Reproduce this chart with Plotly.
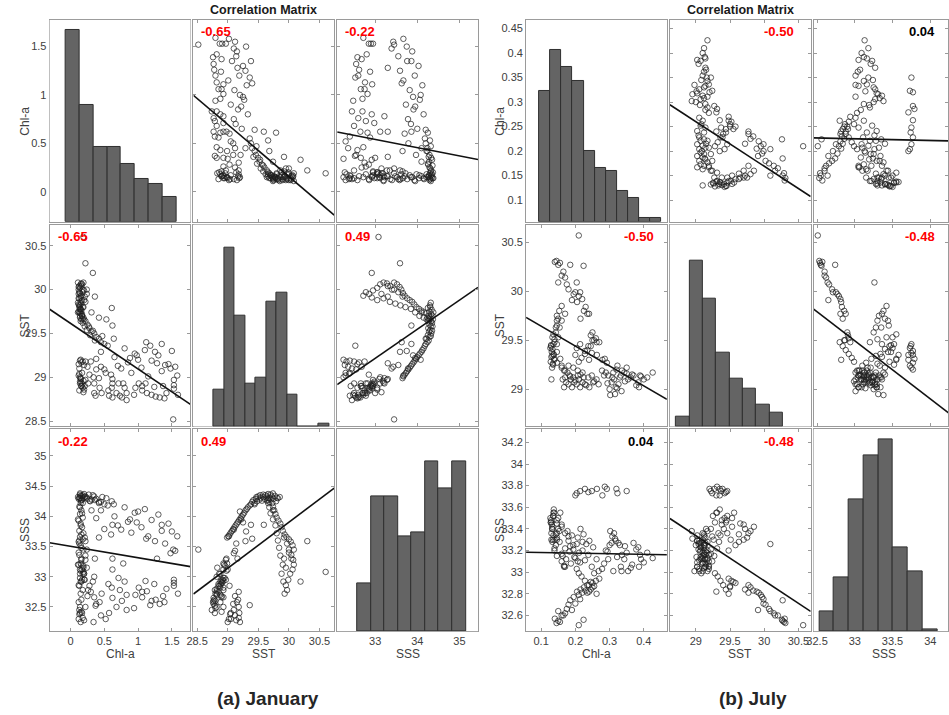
import numpy as np
import plotly.graph_objects as go

W, H = 949, 715
FONT = "Liberation Sans, Arial, Helvetica, sans-serif"
VARS = ["Chl-a", "SST", "SSS"]

# ===================== January stations (grouped by feature) =====================
# warm low-Chl arc
jan_arc_chl = [0.15,0.18,0.12,0.20,0.14, 0.17,0.11,0.16,0.13,0.19, 0.15,0.12,0.18,0.14,0.16,
               0.13,0.17,0.15,0.12,0.18, 0.14,0.16,0.13,0.15,0.17, 0.14,0.12,0.20,0.15,0.22,
               0.16,0.13,0.19,0.15,0.11, 0.17,0.14,0.18,0.12,0.24, 0.16,0.13,0.21,0.15,0.11]
jan_arc_sst = [29.93,29.97,29.95,29.99,30.02, 30.06,30.08,30.07,30.04,30.08, 30.06,30.03,30.00,29.96,29.93,
               29.90,29.88,29.86,29.83,29.80, 29.78,29.76,29.74,29.73,29.70, 29.82,29.90,29.88,29.91,29.86,
               29.84,29.82,29.80,29.78,29.74, 29.70,29.68,29.66,30.00,29.95, 30.04,29.97,29.92,29.64,29.85]
jan_arc_sss = [32.72,32.78,32.86,32.95,33.05, 33.12,33.20,33.28,33.36,33.45, 33.52,33.58,33.62,33.66,33.70,
               33.76,33.82,33.88,33.93,33.98, 34.04,34.10,34.16,34.22,34.28, 34.30,33.20,33.05,32.92,33.35,
               33.48,33.60,33.72,33.85,33.95, 34.05,34.15,34.22,33.40,33.15, 33.30,33.55,33.65,34.26,34.32]
# high-salinity vertical band
jan_band_chl = [0.13,0.15,0.12,0.17,0.14, 0.19,0.16,0.22,0.18,0.25, 0.21,0.28,0.24,0.31,0.35,
                0.29,0.38,0.42,0.36,0.45, 0.50,0.14,0.20,0.27,0.33]
jan_band_sst = [29.80,29.77,29.75,29.72,29.70, 29.68,29.66,29.64,29.62,29.60, 29.58,29.56,29.54,29.52,29.50,
                29.48,29.46,29.44,29.42,29.40, 29.38,29.74,29.66,29.58,29.53]
jan_band_sss = [34.31,34.34,34.29,34.33,34.36, 34.30,34.27,34.33,34.35,34.29, 34.32,34.26,34.31,34.28,34.33,
                34.25,34.29,34.22,34.27,34.24, 34.20,34.38,34.37,34.36,34.35]
# lower descending curve
jan_curve_chl = [0.55,0.80,1.10,0.45,0.95, 1.30,0.65,0.38,1.20,0.85, 1.45,0.70,1.05,0.50,1.35,
                 0.90,0.60,1.15,0.42,1.00]
jan_curve_sst = [29.36,29.33,29.31,29.29,29.27, 29.25,29.23,29.21,29.19,29.17, 29.15,29.13,29.11,29.09,29.07,
                 29.05,29.03,29.01,28.99,29.20]
jan_curve_sss = [34.18,34.15,34.12,34.10,34.06, 34.03,34.00,33.97,33.94,33.91, 33.88,33.85,33.82,33.79,33.76,
                 33.73,33.70,33.67,33.65,34.08]
# scattered mid-salinity, high Chl
jan_mid_chl = [1.55,1.48,1.40,1.25,1.12, 1.35,0.98,0.75,1.58,0.62, 1.18,0.88,1.28,1.50]
jan_mid_sst = [29.12,29.10,29.14,29.29,29.40, 29.38,29.25,29.10,29.02,29.59, 29.36,29.22,29.16,29.30]
jan_mid_sss = [33.43,33.39,33.55,33.59,33.63, 33.86,33.90,33.78,33.67,33.86, 32.53,33.95,33.30,33.75]
# cool low-salinity cluster
jan_cool_chl = [1.59,1.53,1.53,1.53,1.39, 1.42,1.37,1.32,1.26,1.24, 1.20,1.13,1.11,1.06,1.06,
                1.01,0.94,0.96, 0.83,0.83, 0.80,0.76,0.78,0.73,0.68, 0.71,0.62,0.61,0.62,0.62,
                0.57,0.56,0.46,0.43,0.37, 0.35,0.35,0.26,0.21,0.19, 0.16,0.14]
jan_cool_sst = [28.80,28.87,28.91,28.97,28.76, 28.82,28.90,28.77,28.78,28.89, 28.80,28.82,28.93,28.85,28.90,
                28.93,28.80,28.88, 28.74,28.82, 28.88,28.77,28.93,28.79,28.82, 28.93,28.77,28.88,28.93,28.98,
                28.79,28.85,28.82,28.88,28.79, 28.82,28.93,28.93,28.90,28.96, 28.90,28.93]
jan_cool_sss = [32.72,32.85,32.90,32.95,32.58, 32.80,32.68,32.55,32.62,32.88, 32.60,32.76,32.93,32.75,32.66,
                32.82,32.48,32.70, 32.45,32.70, 32.92,32.60,33.22,32.78,32.50, 32.98,32.65,32.82,33.12,33.30,
                32.40,32.88,32.72,32.58,32.52, 33.00,32.66,32.78,32.95,33.18, 32.42,32.50]
# cool stations with low Chl
jan_coollow_chl = [0.13,0.16,0.14,0.18,0.15, 0.12,0.17,0.20,0.14,0.16, 0.22,0.13,0.19,0.15]
jan_coollow_sst = [28.85,28.90,28.95,28.88,28.98, 29.02,28.92,28.86,29.00,28.94, 28.97,29.04,28.83,28.99]
jan_coollow_sss = [32.85,32.92,32.98,33.05,33.10, 32.30,32.95,33.05,33.12,33.20, 33.28,32.38,33.15,33.22]
# fresh left cluster
jan_fresh_chl = [0.15,0.18,0.14,0.22,0.16, 0.30,0.20,0.45,0.13,0.38, 0.25,0.52,0.17,0.34,0.28, 0.12]
jan_fresh_sst = [29.20,29.18,29.19,29.18,29.17, 29.18,29.14,29.12,29.10,29.09, 29.12,29.05,29.05,29.00,29.03, 29.15]
jan_fresh_sss = [32.25,32.32,32.40,32.50,32.62, 32.75,32.28,32.36,32.45,32.55, 32.68,32.30,32.40,32.25,32.85, 32.58]
# isolated stations
jan_misc_chl = [1.52,0.19,0.22,0.33,0.61, 0.36,0.24,0.31,0.42,0.53, 0.64,0.47]
jan_misc_sst = [28.52,30.60,30.30,30.19,29.79, 29.92,30.00,29.74,29.68,29.66, 29.44,29.47]
jan_misc_sss = [33.45,33.08,33.59,32.92,34.25, 33.30,33.45,34.10,34.24,34.30, 34.20,34.32]

jan_chl = (jan_arc_chl + jan_band_chl + jan_curve_chl + jan_mid_chl + jan_cool_chl + jan_coollow_chl
           + jan_fresh_chl + jan_misc_chl)
jan_sst = (jan_arc_sst + jan_band_sst + jan_curve_sst + jan_mid_sst + jan_cool_sst + jan_coollow_sst
           + jan_fresh_sst + jan_misc_sst)
jan_sss = (jan_arc_sss + jan_band_sss + jan_curve_sss + jan_mid_sss + jan_cool_sss + jan_coollow_sss
           + jan_fresh_sss + jan_misc_sss)

# ===================== July stations (grouped by feature) =====================
jul_arm_chl = [0.21,0.145,0.15,0.14,0.155, 0.185,0.16,0.17,0.15,0.175, 0.19,0.18,0.20,0.195,0.21,
               0.22,0.205,0.23,0.225,0.24, 0.25,0.245,0.26,0.27,0.235, 0.215,0.255,0.165]
jul_arm_sst = [30.57,30.31,30.27,30.30,30.29, 30.27,30.16,30.14,30.09,30.07, 29.91,30.02,29.99,29.97,29.95,
               29.92,29.89,29.84,29.80,29.77, 29.58,29.55,29.52,29.48,29.77, 29.72,29.50,30.20]
jul_arm_sss = [32.51,32.53,32.55,32.57,32.54, 32.74,32.60,32.62,32.64,32.66, 32.65,32.70,32.71,32.77,32.79,
               32.81,32.82,32.83,32.86,32.88, 32.90,32.91,32.92,32.94,32.81, 32.84,32.87,32.60]
jul_peak_chl = [0.426,0.410,0.392,0.389,0.386, 0.384,0.370,0.362,0.354,0.350, 0.343,0.336,0.335,0.333,0.330,
                0.326,0.318,0.316,0.313,0.311, 0.306,0.300,0.296,0.289,0.278]
jul_peak_sst = [29.17,29.12,29.13,29.14,29.02, 29.07,29.14,29.12,29.10,29.16, 29.17,29.19,28.98,29.14,29.12,
                29.05,29.02,28.95,29.10,29.17, 29.07,29.00,29.14,29.17,29.19]
jul_peak_sss = [33.13,33.18,33.12,33.16,33.05, 33.23,33.27,33.04,33.01,33.18, 33.12,33.16,33.01,33.05,33.25,
                33.27,33.29,33.31,33.36,33.01, 33.27,33.25,33.12,33.20,33.03]
jul_peak2_chl = [0.400,0.378,0.366,0.345,0.322, 0.308,0.294,0.284]
jul_peak2_sst = [29.10,29.04,29.15,29.08,29.01, 29.12,29.06,29.14]
jul_peak2_sss = [33.09,33.21,33.07,33.24,33.14, 33.33,33.19,33.08]
jul_salty_chl = [0.350,0.323,0.320,0.292,0.286, 0.279,0.263,0.248,0.238,0.228, 0.214,0.204,0.200]
jul_salty_sst = [29.22,29.24,29.20,29.27,29.31, 29.30,29.35,29.37,29.44,29.39, 29.46,29.42,29.35]
jul_salty_sss = [33.75,33.73,33.77,33.77,33.79, 33.71,33.77,33.75,33.74,33.77, 33.75,33.73,33.71]
jul_core_chl = [0.268,0.262,0.252,0.241,0.238, 0.248,0.228,0.221,0.224,0.214, 0.211,0.207,0.204,0.197,0.194,
                0.190,0.187,0.183,0.180,0.173, 0.170,0.177,0.167,0.163,0.221, 0.207,0.194,0.180,0.167,0.160,
                0.255,0.232,0.215,0.200,0.185]
jul_core_sst = [29.05,29.10,29.07,29.02,29.12, 29.14,29.05,29.07,29.12,29.02, 29.10,29.14,29.05,29.07,29.12,
                29.02,29.10,29.14,29.05,29.07, 29.12,29.17,29.02,29.10,29.17, 29.19,29.22,29.24,29.19,29.22,
                29.08,29.04,29.15,29.09,29.13]
jul_core_sss = [33.01,33.12,33.23,33.29,33.16, 33.05,33.11,33.20,33.35,33.09, 33.18,33.32,33.03,33.14,33.25,
                33.34,33.08,33.19,33.29,33.12, 33.22,33.38,33.05,33.15,33.28, 33.10,33.21,33.33,33.06,33.17,
                32.99,33.26,33.40,33.13,33.24]
jul_low_chl = [0.170,0.160,0.146,0.139,0.133, 0.136,0.133,0.129,0.136,0.139, 0.139,0.133,0.136,0.143,0.143,
               0.146,0.146,0.150,0.146,0.153, 0.160,0.156,0.146,0.146,0.150, 0.154,0.160,0.170]
jul_low_sst = [29.19,29.24,29.27,29.31,29.34, 29.36,29.41,29.44,29.46,29.48, 29.51,29.53,29.56,29.58,29.63,
               29.65,29.70,29.72,29.75,29.80, 29.85,29.31,29.38,29.46,29.53, 29.63,29.70,29.77]
jul_low_sss = [33.05,33.10,33.15,33.22,33.28, 33.34,33.40,33.46,33.52,33.20, 33.30,33.42,33.55,33.25,33.35,
               33.45,33.30,33.40,33.32,33.38, 33.42,33.55,33.48,33.36,33.50, 33.28,33.44,33.36]
jul_blob_chl = [0.132,0.128,0.135,0.130,0.138, 0.131,0.127,0.134,0.137,0.129]
jul_blob_sst = [29.22,29.28,29.25,29.33,29.30, 29.38,29.42,29.26,29.35,29.45]
jul_blob_sss = [33.40,33.46,33.52,33.36,33.55, 33.44,33.50,33.30,33.58,33.48]
jul_mix_chl = [0.262,0.245,0.235,0.228,0.218, 0.210,0.250,0.240]
jul_mix_sst = [29.48,29.44,29.40,29.36,29.32, 29.28,29.50,29.30]
jul_mix_sss = [32.80,32.84,32.88,32.92,32.96, 32.99,32.86,32.82]
jul_misc_chl = [0.204,0.224,0.214,0.130,0.302]
jul_misc_sst = [30.09,30.26,29.99,29.10,28.94]
jul_misc_sss = [33.26,32.56,32.75,33.30,33.38]

jul_chl = (jul_arm_chl + jul_peak_chl + jul_peak2_chl + jul_salty_chl + jul_core_chl + jul_low_chl
           + jul_blob_chl + jul_mix_chl + jul_misc_chl)
jul_sst = (jul_arm_sst + jul_peak_sst + jul_peak2_sst + jul_salty_sst + jul_core_sst + jul_low_sst
           + jul_blob_sst + jul_mix_sst + jul_misc_sst)
jul_sss = (jul_arm_sss + jul_peak_sss + jul_peak2_sss + jul_salty_sss + jul_core_sss + jul_low_sss
           + jul_blob_sss + jul_mix_sss + jul_misc_sss)

# ===================== correlation labels =====================
jan_corr = [[None, -0.65, -0.22], [-0.65, None, 0.49], [-0.22, 0.49, None]]
jul_corr = [[None, -0.50, 0.04], [-0.50, None, -0.48], [0.04, -0.48, None]]

# ===================== axis limits and ticks =====================
jan_limits = [[-0.31, 1.775], [28.44, 30.74], [32.10, 35.44]]
jul_limits = [[0.056, 0.4675], [28.62, 30.68], [32.455, 34.32]]
jan_xticks = [[0, 0.5, 1, 1.5], [28.5, 29, 29.5, 30, 30.5], [33, 34, 35]]
jan_yticks = [[0, 0.5, 1, 1.5], [28.5, 29, 29.5, 30, 30.5], [32.5, 33, 33.5, 34, 34.5, 35]]
jul_xticks = [[0.1, 0.2, 0.3, 0.4], [29, 29.5, 30, 30.5], [32.5, 33, 33.5, 34]]
jul_yticks = [[0.1, 0.15, 0.2, 0.25, 0.3, 0.35, 0.4, 0.45], [29, 29.5, 30, 30.5],
              [32.6, 32.8, 33, 33.2, 33.4, 33.6, 33.8, 34, 34.2]]

# ===================== histograms (diagonal) =====================
jan_hist_start = [-0.0707, 28.7688, 32.5775]
jan_hist_width = [0.20446, 0.17169, 0.32165]
jan_hist_counts = [[77, 47, 30, 30, 23, 17, 15, 10],
                   [13, 63, 39, 15, 17, 44, 47, 11, 0, 0, 1],
                   [12, 34, 34, 24, 25, 43, 36, 43]]
jan_hist_top = [81, 71, 51]
jul_hist_start = [0.0943, 28.714, 32.531]
jul_hist_width = [0.03249, 0.19454, 0.19537]
jul_hist_counts = [[39, 51, 46, 42, 21, 16, 15, 9, 7, 1, 1],
                   [5, 83, 64, 37, 24, 19, 11, 7],
                   [10, 27, 66, 88, 96, 42, 30, 1]]
jul_hist_top = [60, 101, 101]

# ===================== layout geometry (pixels) =====================
ROWS = [(20, 222), (225, 427), (430, 632)]
jan_cols = [(43, 185), (188, 330), (333, 475)]
jul_cols = [(523.5, 665.5), (668.5, 810.5), (813.5, 955.5)]

months = [
    dict(data=[jan_chl, jan_sst, jan_sss], lim=jan_limits, xt=jan_xticks, yt=jan_yticks,
         cols=jan_cols, corr=jan_corr, side="left", inset=[6, 6, 6], hs=jan_hist_start,
         hw=jan_hist_width, hc=jan_hist_counts, ht=jan_hist_top, ytitle_x=18),
    dict(data=[jul_chl, jul_sst, jul_sss], lim=jul_limits, xt=jul_xticks, yt=jul_yticks,
         cols=jul_cols, corr=jul_corr, side="right", inset=[11, 15, 18], hs=jul_hist_start,
         hw=jul_hist_width, hc=jul_hist_counts, ht=jul_hist_top, ytitle_x=497),
]

FRAME = "#9a9a9a"
TICKFONT = dict(family=FONT, size=11, color="#404040")


def fmt(v):
    return "%g" % v


fig = go.Figure()
layout = dict(width=W, height=H, margin=dict(l=0, r=0, t=0, b=0),
              paper_bgcolor="white", plot_bgcolor="white", showlegend=False,
              font=dict(family=FONT), bargap=0)
annotations = []

ax = 0
hist_ax = 18
for M in months:
    for r in range(3):
        ya0, ya1 = ROWS[r]
        ydom = [1 - ya1 / H, 1 - ya0 / H]
        for c in range(3):
            ax += 1
            xa0, xa1 = M["cols"][c]
            xlo, xhi = M["lim"][c]
            if xa1 > W:  # panel runs past the right border of the picture
                xhi = xlo + (W - xa0) / (xa1 - xa0) * (xhi - xlo)
                xa1 = W
            xdom = [xa0 / W, xa1 / W]
            ylo, yhi = M["lim"][r]
            sfx = "" if ax == 1 else str(ax)
            xref, yref = "x" + sfx, "y" + sfx
            diag = (r == c)
            base = dict(showgrid=False, zeroline=False, showline=True, linecolor=FRAME,
                        linewidth=1, mirror=True if diag else "allticks",
                        ticks="" if diag else "inside", ticklen=3, tickcolor=FRAME,
                        tickfont=TICKFONT, fixedrange=True)
            layout["xaxis" + sfx] = dict(base, domain=xdom, range=[xlo, xhi], anchor=yref,
                                         tickmode="array", tickvals=M["xt"][c],
                                         ticktext=[fmt(v) for v in M["xt"][c]],
                                         showticklabels=(r == 2))
            layout["yaxis" + sfx] = dict(base, domain=ydom, range=[ylo, yhi], anchor=xref,
                                         tickmode="array", tickvals=M["yt"][r],
                                         ticktext=[fmt(v) for v in M["yt"][r]],
                                         showticklabels=(c == 0))
            if diag:
                fig.add_trace(go.Scatter(x=[], y=[], xaxis=xref, yaxis=yref, hoverinfo="skip"))
                hist_ax += 1
                hs = str(hist_ax)
                layout["xaxis" + hs] = dict(domain=xdom, range=[xlo, xhi], anchor="y" + hs,
                                            visible=False, fixedrange=True)
                layout["yaxis" + hs] = dict(domain=ydom, range=[0, M["ht"][c]], anchor="x" + hs,
                                            visible=False, fixedrange=True)
                counts = M["hc"][c]
                w = M["hw"][c]
                centers = [M["hs"][c] + (i + 0.5) * w for i in range(len(counts))]
                fig.add_trace(go.Bar(x=centers, y=counts, width=[w] * len(counts),
                                     marker=dict(color="#646464", line=dict(color="#2f2f2f", width=1)),
                                     xaxis="x" + hs, yaxis="y" + hs, hoverinfo="skip"))
            else:
                xs = np.array(M["data"][c], dtype=float)
                ys = np.array(M["data"][r], dtype=float)
                fig.add_trace(go.Scatter(x=xs, y=ys, mode="markers", xaxis=xref, yaxis=yref,
                                         marker=dict(symbol="circle-open", size=5.5,
                                                     color="rgba(30,30,30,0.8)",
                                                     line=dict(width=0.9)),
                                         hoverinfo="skip"))
                k, b0 = np.polyfit(xs, ys, 1)
                lx = np.array([M["lim"][c][0], M["lim"][c][1]])
                fig.add_trace(go.Scatter(x=lx, y=k * lx + b0, mode="lines", xaxis=xref, yaxis=yref,
                                         line=dict(color="#111111", width=1.6), hoverinfo="skip"))
                val = M["corr"][r][c]
                col = "#000000" if abs(val) < 0.1 else "#ff0000"
                if M["side"] == "left":
                    ax_x, anc = (xa0 + M["inset"][c]) / W, "left"
                else:
                    ax_x, anc = (M["cols"][c][1] - M["inset"][c]) / W, "right"
                annotations.append(dict(x=ax_x, y=1 - (ya0 + 12) / H, xref="paper", yref="paper",
                                        text="<b>%.2f</b>" % val, showarrow=False, xanchor=anc,
                                        yanchor="middle",
                                        font=dict(family=FONT, size=13, color=col)))
    # axis titles
    for i, name in enumerate(VARS):
        y0, y1 = ROWS[i]
        annotations.append(dict(x=M["ytitle_x"] / W, y=1 - (y0 + y1) / 2 / H, xref="paper", yref="paper",
                                text=name, textangle=-90, showarrow=False, xanchor="center",
                                yanchor="middle", font=dict(family=FONT, size=12, color="#404040")))
        x0, x1 = M["cols"][i]
        annotations.append(dict(x=(x0 + x1) / 2 / W, y=1 - 655 / H, xref="paper", yref="paper",
                                text=name, showarrow=False, xanchor="center", yanchor="middle",
                                font=dict(family=FONT, size=12, color="#404040")))
    cx = (M["cols"][0][0] + M["cols"][2][1]) / 2
    annotations.append(dict(x=cx / W, y=1 - 10 / H, xref="paper", yref="paper",
                            text="<b>Correlation Matrix</b>", showarrow=False, xanchor="center",
                            yanchor="middle", font=dict(family=FONT, size=12.5, color="#1a1a1a")))

annotations.append(dict(x=263 / W, y=1 - 699 / H, xref="paper", yref="paper", text="<b>(a) January</b>",
                        showarrow=False, xanchor="center", yanchor="middle",
                        font=dict(family=FONT, size=19, color="#262626")))
annotations.append(dict(x=752 / W, y=1 - 699 / H, xref="paper", yref="paper", text="<b>(b) July</b>",
                        showarrow=False, xanchor="center", yanchor="middle",
                        font=dict(family=FONT, size=19, color="#262626")))

layout["annotations"] = annotations
fig.update_layout(**layout)
fig.write_html("out.html", config={"displayModeBar": False},
               post_script="document.body.style.margin='0px';document.body.style.overflow='hidden';")
